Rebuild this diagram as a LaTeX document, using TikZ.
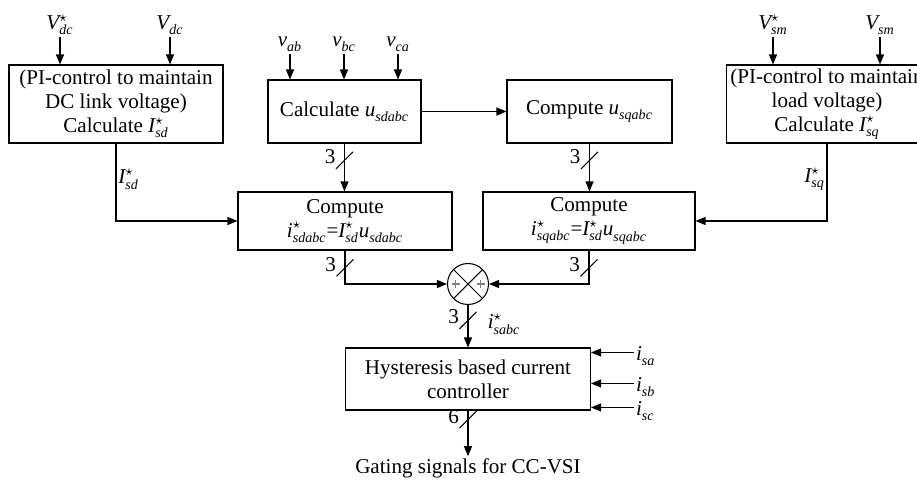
\documentclass[tikz,border=0pt]{standalone}
\usepackage{amsmath}
\usepackage{fontspec}
\setmainfont{Liberation Serif}
\usetikzlibrary{arrows.meta}
\newcommand{\sv}[3]{$\textit{#1}^{#2}_{\text{\itshape #3}}$}

\begin{document}
\begin{tikzpicture}[x=0.02cm, y=-0.02cm,
        font=\fontsize{12}{13.6}\selectfont,
        blk/.style={draw, line width=0.6pt, align=center, inner sep=2pt},
        inp/.style={inner sep=1pt},
        arr/.style={-{Triangle[length=2mm, width=1.6mm]}, line width=0.6pt},
        ln/.style={line width=0.6pt},
        bus/.style={inner sep=0pt, minimum size=0.32cm, label distance=-2pt,
          label={[inner sep=0pt, yshift=2pt]left:#1}},
        sumj/.style={circle, draw, line width=0.6pt, minimum size=0.82cm, inner sep=0pt,
          path picture={
            \draw[line width=0.6pt] (path picture bounding box.north west) -- (path picture bounding box.south east)
              (path picture bounding box.south west) -- (path picture bounding box.north east);
            \draw[gray, line width=0.6pt] ([xshift=-0.25cm]path picture bounding box.center) ++(-0.08cm,0) -- ++(0.16cm,0) ++(-0.08cm,-0.08cm) -- ++(0,0.16cm);
            \draw[gray, line width=0.6pt] ([xshift=0.25cm]path picture bounding box.center) ++(-0.08cm,0) -- ++(0.16cm,0) ++(-0.08cm,-0.08cm) -- ++(0,0.16cm);}}]
      \clip (0,0) rectangle (917,480);
      % top row
      \node[blk, minimum width=4.28cm, minimum height=1.56cm] (pil) at (116,104) {(PI-control to maintain\\ DC link voltage)\\ Calculate \sv{I}{\star}{sd}};
      \node[blk, minimum width=3.06cm, minimum height=1.26cm] (calc) at (344.5,111.5) {Calculate \sv{u}{}{sdabc}};
      \node[blk, minimum width=3.3cm, minimum height=1.26cm] (usq) at (589.5,111.5) {Compute \sv{u}{}{sqabc}};
      \node[blk, minimum width=4.0cm, minimum height=1.56cm] (pir) at (827,104) {(PI-control to maintain\\ load voltage)\\ Calculate \sv{I}{\star}{sq}};
      % inputs
      \node[inp, anchor=south] (vdcs) at (60,37) {\sv{V}{\star}{dc}};
      \node[inp, anchor=south] (vdc) at (170,37) {\sv{V}{}{dc}};
      \node[inp, anchor=south] (vab) at (290,54) {\sv{v}{}{ab}};
      \node[inp, anchor=south] (vbc) at (344,54) {\sv{v}{}{bc}};
      \node[inp, anchor=south] (vca) at (398,54) {\sv{v}{}{ca}};
      \node[inp, anchor=south] (vsms) at (773,37) {\sv{V}{\star}{sm}};
      \node[inp, anchor=south] (vsm) at (880,37) {\sv{V}{}{sm}};
      % middle row
      \node[blk, minimum width=4.28cm, minimum height=1.16cm] (cl) at (345,221) {Compute\\ \sv{i}{\star}{sdabc}=\sv{I}{\star}{sd}\sv{u}{}{sdabc}};
      \node[blk, minimum width=4.24cm, minimum height=1.16cm] (cr) at (589,221) {Compute\\ \sv{i}{\star}{sqabc}=\sv{I}{\star}{sd}\sv{u}{}{sqabc}};
      \node[sumj] (sum) at (468,284) {};
      % controller
      \node[blk, minimum width=4.9cm, minimum height=1.24cm] (hyst) at (468,379) {Hysteresis based current\\ controller};
      \node[inp, anchor=west] (isa) at (634,356) {\sv{i}{}{sa}};
      \node[inp, anchor=west] (isb) at (634,387) {\sv{i}{}{sb}};
      \node[inp, anchor=west] (isc) at (634,411) {\sv{i}{}{sc}};
      \node[inp] (gate) at (468,468) {Gating signals for CC-VSI};
      % connections
      \foreach \n/\b in {vdcs/pil, vdc/pil, vab/calc, vbc/calc, vca/calc, vsms/pir, vsm/pir}
        \draw[arr] (\n) -- (\n |- \b.north);
      \draw[arr] (pil) |- node[inp, pos=0.23, right] {\sv{I}{\star}{sd}} (cl);
      \draw[arr] (pir) |- node[inp, pos=0.23, left] {\sv{I}{\star}{sq}} (cr);
      \draw[arr] (calc) -- (usq);
      \draw[arr] (calc) -- node[bus=3, pos=0.35] (b1) {} (calc |- cl.north);
      \draw[arr] (usq) -- node[bus=3, pos=0.35] (b2) {} (usq |- cr.north);
      \draw[arr] (cl) |- node[bus=3, pos=0.26] (b3) {} (sum);
      \draw[arr] (cr) |- node[bus=3, pos=0.26] (b4) {} (sum);
      \draw[arr] (sum) -- node[bus=3, pos=0.36] (b5) {} node[inp, pos=0.45, right=0.35cm] {\sv{i}{\star}{sabc}} (hyst);
      \foreach \n in {isa, isb, isc}
        \draw[arr] ([yshift=2pt]\n.west) -- ([yshift=2pt]\n.west -| hyst.east);
      \draw[arr] (hyst) -- node[bus=6, pos=0.2] (b6) {} (gate);
      % bus slashes
      \foreach \b in {b1, b2, b3, b4, b5, b6}
        \draw[ln] (\b.south west) -- (\b.north east);
    \end{tikzpicture}
\end{document}
